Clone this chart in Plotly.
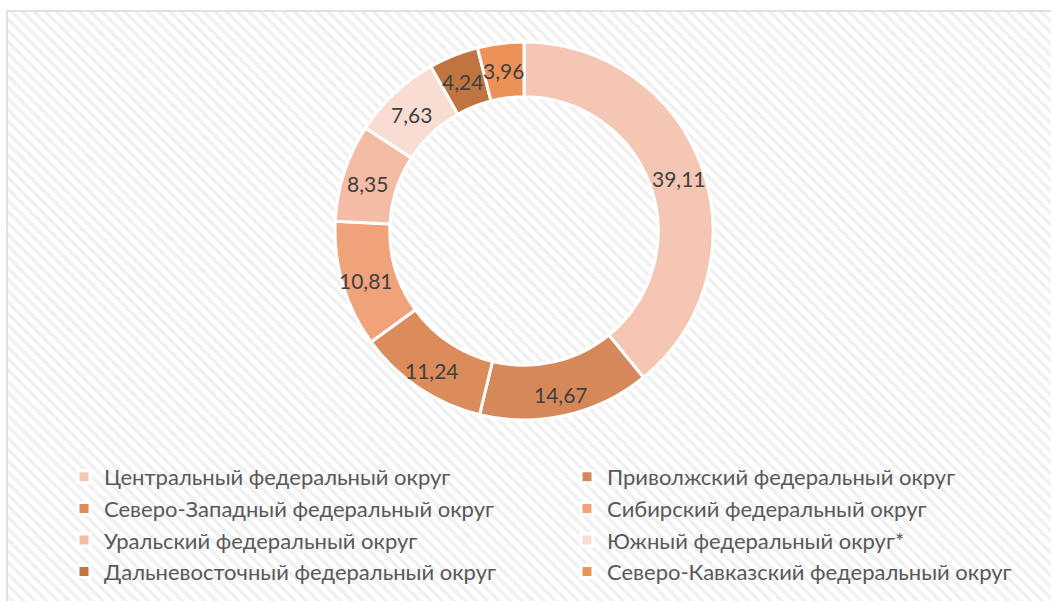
import math
import plotly.graph_objects as go

districts = [
    "Центральный федеральный округ",
    "Приволжский федеральный округ",
    "Северо-Западный федеральный округ",
    "Сибирский федеральный округ",
    "Уральский федеральный округ",
    "Южный федеральный округ*",
    "Дальневосточный федеральный округ",
    "Северо-Кавказский федеральный округ",
]
shares = [39.11, 14.67, 11.24, 10.81, 8.35, 7.63, 4.24, 3.96]
slice_colors = ["#f5c6b3", "#d5895a", "#db8c5a", "#f0a27a",
                "#f4bba5", "#f9dcd2", "#c07540", "#ec9258"]

W, H = 1051, 601
FONT = "Lato, 'Open Sans', sans-serif"

fig = go.Figure()

# hatched chart-area background
fig.add_trace(go.Scatter(
    x=[7, W + 5, W + 5, 7, 7], y=[-5, -5, H - 11, H - 11, -5],
    mode="lines", fill="toself",
    line=dict(color="#d9d9d9", width=1.5),
    fillcolor="#ffffff",
    fillpattern=dict(shape="\\", fgcolor="#e2e2e2", bgcolor="#ffffff",
                     size=8, solidity=0.45),
    hoverinfo="skip", showlegend=False,
))

cx, cy, r, hole = 524, 231, 189, 0.71
fig.add_trace(go.Pie(
    labels=districts, values=shares,
    sort=False, direction="clockwise", rotation=0,
    hole=hole,
    marker=dict(colors=slice_colors, line=dict(color="#ffffff", width=3)),
    textinfo="none",
    domain=dict(x=[(cx - r) / W, (cx + r) / W],
                y=[(H - cy - r) / H, (H - cy + r) / H]),
))

# data labels at the middle angle of each slice (derived from the values)
total = sum(shares)
rl = r * (1 + hole) / 2 + 3
cum = 0.0
for v in shares:
    a = 2 * math.pi * (cum + v / 2) / total
    cum += v
    fig.add_annotation(
        x=cx + rl * math.sin(a), y=H - (cy + 3 - rl * math.cos(a)),
        xref="x", yref="y", showarrow=False,
        text=f"{v:.2f}".replace(".", ","),
        font=dict(family=FONT, size=21, color="#404040"),
    )

fig.update_layout(
    width=W, height=H,
    margin=dict(l=0, r=0, t=0, b=0, autoexpand=False),
    paper_bgcolor="#ffffff", plot_bgcolor="rgba(0,0,0,0)",
    separators=", ",
    xaxis=dict(range=[0, W], visible=False, fixedrange=True, domain=[0, 1]),
    yaxis=dict(range=[0, H], visible=False, fixedrange=True, domain=[0, 1]),
    font=dict(family=FONT, size=22, color="#595959"),
    legend=dict(orientation="h", x=64 / W, xanchor="left",
                y=(H - 456) / H, yanchor="top",
                entrywidth=458, entrywidthmode="pixels",
                bgcolor="rgba(0,0,0,0)",
                font=dict(family=FONT, size=22, color="#595959"),
                traceorder="normal"),
    showlegend=True,
)

fig.write_html("out.html")
